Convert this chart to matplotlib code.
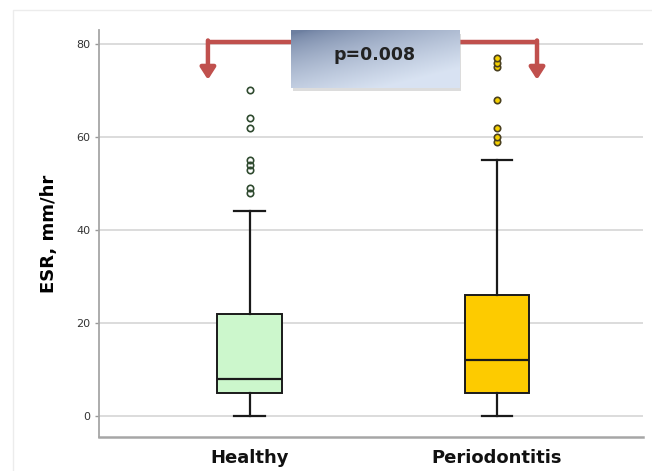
import numpy as np
import matplotlib
matplotlib.use("Agg")
import matplotlib.pyplot as plt
from matplotlib.patches import Rectangle

# ---- data (ESR, mm/hr) ----
groups = ["Healthy", "Periodontitis"]
whisker_low = [0, 0]
q1 = [5, 5]
median = [8, 12]
q3 = [22, 26]
whisker_high = [44, 55]
outliers_healthy = [48, 49, 53, 54, 55, 62, 64, 70]
outliers_perio = [59, 60, 62, 68, 75, 76, 77]
p_text = "p=0.008"
yticks = [0, 20, 40, 60, 80]

fill_colors = ["#ccf7cc", "#fdcb00"]
flier_faces = ["none", "#f5d000"]
flier_edges = ["#2f4a2f", "#4a4020"]

fig = plt.figure(figsize=(6.52, 4.71), dpi=100)
ax = fig.add_axes([0.1518, 0.0722, 0.8344, 0.8641])

# faint outer frame
fig.patches.append(Rectangle((13 / 652, -0.1), 1.2, 1 - 10 / 471 + 0.1,
                             transform=fig.transFigure, fill=False,
                             edgecolor="#ececec", lw=1.0, zorder=0))

stats = []
for i, g in enumerate(groups):
    stats.append(dict(label=g, whislo=whisker_low[i], q1=q1[i], med=median[i],
                      q3=q3[i], whishi=whisker_high[i],
                      fliers=[outliers_healthy, outliers_perio][i]))

positions = [1, 2]
bp = ax.bxp(stats, positions=positions, widths=0.263, patch_artist=True,
            showfliers=False, capwidths=0.125,
            boxprops=dict(linewidth=1.4, edgecolor="#1a1a1a"),
            medianprops=dict(color="#1a1a1a", linewidth=1.6),
            whiskerprops=dict(color="#1a1a1a", linewidth=1.6),
            capprops=dict(color="#1a1a1a", linewidth=1.6))
for patch, c in zip(bp["boxes"], fill_colors):
    patch.set_facecolor(c)
    patch.set_zorder(3)
for key in ("medians", "whiskers", "caps"):
    for ln in bp[key]:
        ln.set_zorder(4)

for pos, vals, fc, ec in zip(positions, [outliers_healthy, outliers_perio],
                             flier_faces, flier_edges):
    ax.plot([pos] * len(vals), vals, linestyle="none", marker="o",
            markersize=4.6, markerfacecolor=fc, markeredgecolor=ec,
            markeredgewidth=1.2, zorder=4)

ax.set_xlim(0.389, 2.591)
ax.set_ylim(-4.5, 83.0)
ax.set_yticks(yticks)
ax.set_xticks(positions)
ax.set_xticklabels(groups, fontsize=13, fontweight="bold", color="#111111")
ax.tick_params(axis="x", length=0, pad=9)
ax.tick_params(axis="y", length=3, width=1, color="#999999",
               labelsize=8, labelcolor="#333333", pad=3)
ax.set_ylabel("ESR, mm/hr", fontsize=13, fontweight="bold", labelpad=13)

ax.yaxis.grid(True, color="#d9d9d9", linewidth=1.3, zorder=0)
ax.set_axisbelow(True)
for s in ["top", "right"]:
    ax.spines[s].set_visible(False)
ax.spines["left"].set_color("#a6a6a6")
ax.spines["left"].set_linewidth(1.3)
ax.spines["bottom"].set_color("#a6a6a6")
ax.spines["bottom"].set_linewidth(1.8)

# significance bracket with arrows
red = "#c0504d"
y_bar = 80.4
xl, xr = 0.83, 2.162
ax.plot([xl, 1.2], [y_bar, y_bar], color=red, lw=3.2, solid_capstyle="butt",
        zorder=5, clip_on=False)
ax.plot([1.8, xr], [y_bar, y_bar], color=red, lw=3.2, solid_capstyle="butt",
        zorder=5, clip_on=False)
for x in (xl, xr):
    ax.annotate("", xy=(x, 72.3), xytext=(x, y_bar + 0.35),
                arrowprops=dict(arrowstyle="-|>,head_length=0.7,head_width=0.45",
                                color=red, lw=3.2, shrinkA=0, shrinkB=0),
                zorder=5, annotation_clip=False)

# gradient label box
bx0, bx1, by0, by1 = 1.166, 1.846, 70.5, 82.8
nx, ny = 200, 60
gx, gy = np.meshgrid(np.linspace(0, 1, nx), np.linspace(0, 1, ny))
t = np.clip(0.55 * gx + 0.75 * (1 - gy) - 0.05, 0, 1)  # dark toward top-left
t = t ** 0.7
dark = np.array([0.43, 0.50, 0.63])
light = np.array([0.85, 0.89, 0.95])
img = dark[None, None, :] * (1 - t[..., None]) + light[None, None, :] * t[..., None]
img = img[::-1]
ax.imshow(img, extent=(bx0, bx1, by0, by1), aspect="auto", zorder=6,
          clip_on=False, interpolation="bilinear")
ax.add_patch(Rectangle((bx0 + 0.01, by0 - 0.6), bx1 - bx0, by1 - by0,
                       facecolor="#bbbbbb", edgecolor="none", alpha=0.5,
                       zorder=5.5, clip_on=False))
ax.text((bx0 + bx1) / 2, (by0 + by1) / 2 + 1.0, p_text, ha="center",
        va="center", fontsize=12.5, fontweight="bold", color="#222222",
        zorder=7)
ax.set_xlim(0.389, 2.591)
ax.set_ylim(-4.5, 83.0)

fig.savefig("out.png", dpi=100)
